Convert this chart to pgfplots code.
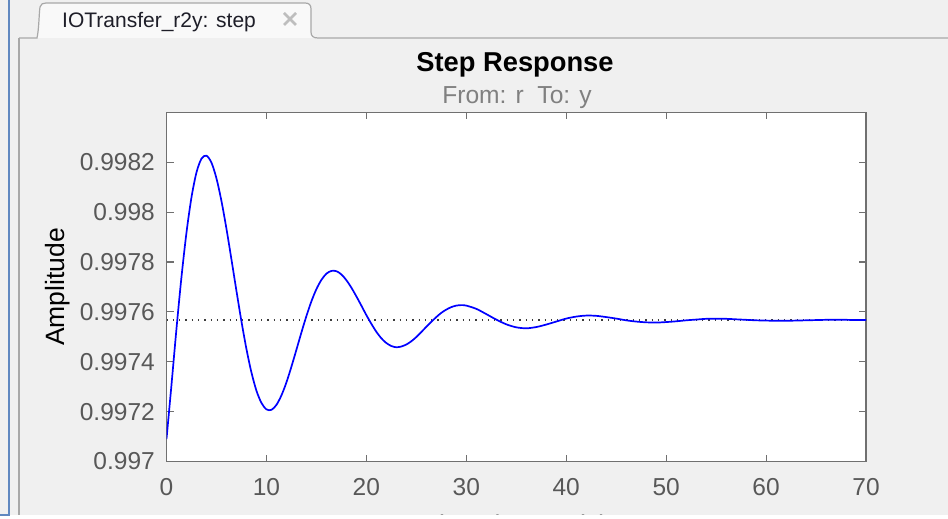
\documentclass[border=0pt]{standalone}
\usepackage{pgfplots}
\pgfplotsset{compat=1.18}
\usepackage{fontspec}
\setmainfont{Liberation Sans}
\definecolor{winbg}{RGB}{240,240,240}
\definecolor{axgray}{RGB}{112,112,112}
\definecolor{ticktext}{RGB}{88,88,88}
\definecolor{subgray}{RGB}{128,128,128}
\definecolor{tabline}{RGB}{168,168,168}
\definecolor{leftblue}{RGB}{96,136,192}
\definecolor{mblue}{RGB}{0,0,255}
\definecolor{tabtext}{RGB}{30,30,40}
\definecolor{closegray}{RGB}{190,190,190}
\definecolor{dotgray}{RGB}{60,60,60}
\begin{document}
\begin{tikzpicture}
\path[use as bounding box] (0pt,0pt) rectangle (948pt,519pt);
\clip (0pt,0pt) rectangle (948pt,519pt);
% window background
\fill[winbg] (0pt,0pt) rectangle (948pt,519pt);
% left blue frame
\draw[leftblue, line width=2.5pt] (9pt,519pt) -- (9pt,4pt) -- (0pt,4pt);
% content border
\draw[tabline, line width=1.5pt] (19pt,481pt) -- (19pt,3pt);
% tab
\fill[white!60!winbg] (37pt,481pt) .. controls (39pt,490pt) and (39pt,505pt) .. (40pt,512pt)
  .. controls (40.5pt,515pt) and (43pt,516pt) .. (46pt,516pt) -- (305pt,516pt)
  .. controls (309pt,516pt) and (311pt,514pt) .. (311pt,510pt) -- (311pt,487pt)
  .. controls (311pt,483pt) and (313pt,481pt) .. (318pt,481pt) -- cycle;
\draw[tabline, line width=1.2pt] (19pt,481pt) -- (37pt,481pt)
  .. controls (39pt,490pt) and (39pt,505pt) .. (40pt,512pt)
  .. controls (40.5pt,515pt) and (43pt,516pt) .. (46pt,516pt) -- (305pt,516pt)
  .. controls (309pt,516pt) and (311pt,514pt) .. (311pt,510pt) -- (311pt,487pt)
  .. controls (311pt,483pt) and (313pt,481pt) .. (318pt,481pt) -- (948pt,481pt);
\node[anchor=base west, inner sep=0pt, text=tabtext] at (62pt,491.7pt)
  {\fontsize{21}{24}\selectfont IOTransfer\_r2y: step};
\draw[closegray, line width=2.5pt] (284pt,506pt) -- (296pt,494pt)
  (284pt,494pt) -- (296pt,506pt);
% titles
\node[anchor=base, inner sep=0pt] at (515pt,447.3pt)
  {\fontsize{27.3}{30}\selectfont\bfseries Step Response};
\node[anchor=base, inner sep=0pt, text=subgray] at (517pt,415pt)
  {\fontsize{24.6}{28}\selectfont From: r~~To: y};
\begin{axis}[
  at={(166.5pt,57.5pt)}, anchor=south west,
  scale only axis, width=699.5pt, height=349.2pt,
  xmin=0, xmax=70, ymin=0.997, ymax=0.9984,
  axis background/.style={fill=white},
  axis line style={axgray, line width=1.3pt},
  every tick/.style={axgray, line width=1.1pt},
  major tick length=7pt,
  tick align=inside,
  xtick={0,10,20,30,40,50,60,70},
  xticklabels={0,10,20,30,40,50,60,70},
  ytick={0.997,0.9972,0.9974,0.9976,0.9978,0.998,0.9982},
  yticklabels={0.997,0.9972,0.9974,0.9976,0.9978,0.998,0.9982},
  yticklabel style={font=\fontsize{24.5}{28}\selectfont, text=ticktext, inner sep=0pt, anchor=east, xshift=-11.5pt},
  xticklabel style={font=\fontsize{24.5}{28}\selectfont, text=ticktext, inner sep=0pt, anchor=north, yshift=-16.5pt},
  xlabel={Time (seconds)},
  xlabel style={font=\fontsize{27}{30}\selectfont, text=ticktext, inner sep=0pt, anchor=base, at={(axis description cs:0.5,-0.208)}},
  ylabel={Amplitude},
  ylabel style={font=\fontsize{26.5}{30}\selectfont, text=black, inner sep=0pt, anchor=base, at={(axis description cs:-0.1465,0.5)}},
  clip=true,
]
\addplot[dotgray, line width=1.3pt, dash pattern=on 1.3pt off 5pt] coordinates {(0,0.997567) (70,0.997567)};
\addplot[mblue, line width=1.7pt, smooth] table {
t y
0 0.997090
0.5 0.997308
1 0.997533
1.5 0.997740
2 0.997918
2.5 0.998059
3 0.998159
3.5 0.998214
4 0.998226
4.5 0.998198
5 0.998135
5.5 0.998044
6 0.997933
6.5 0.997810
7 0.997684
7.5 0.997562
8 0.997451
8.5 0.997357
9 0.997284
9.5 0.997235
10 0.997209
10.5 0.997207
11 0.997227
11.5 0.997265
12 0.997317
12.5 0.997380
13 0.997448
13.5 0.997517
14 0.997583
14.5 0.997642
15 0.997691
15.5 0.997728
16 0.997753
16.5 0.997764
17 0.997763
17.5 0.997750
18 0.997727
18.5 0.997697
19 0.997662
19.5 0.997625
20 0.997587
20.5 0.997552
21 0.997520
21.5 0.997494
22 0.997475
22.5 0.997463
23 0.997458
23.5 0.997461
24 0.997469
24.5 0.997482
25 0.997499
25.5 0.997519
26 0.997540
26.5 0.997560
27 0.997579
27.5 0.997596
28 0.997609
28.5 0.997619
29 0.997625
29.5 0.997627
30 0.997625
31 0.997612
32 0.997591
33 0.997569
34 0.997550
35 0.997538
36 0.997534
37 0.997539
38 0.997549
39 0.997561
40 0.997573
41 0.997581
42 0.997585
43 0.997584
44 0.997579
45 0.997573
46 0.997566
47 0.997561
48 0.997558
49 0.997557
50 0.997559
51 0.997562
52 0.997566
53 0.997569
54 0.997572
55 0.997572
56 0.997572
57 0.997570
58 0.997568
59 0.997566
60 0.997565
61 0.997564
62 0.997564
63 0.997565
64 0.997566
65 0.997567
66 0.997568
67 0.997568
68 0.997568
69 0.997567
70 0.997567
};
\end{axis}
% bottom white strip
\fill[white] (0pt,0pt) rectangle (948pt,4pt);
\draw[leftblue, line width=2.5pt] (9pt,9pt) -- (9pt,4pt) -- (0pt,4pt);
\end{tikzpicture}
\end{document}
